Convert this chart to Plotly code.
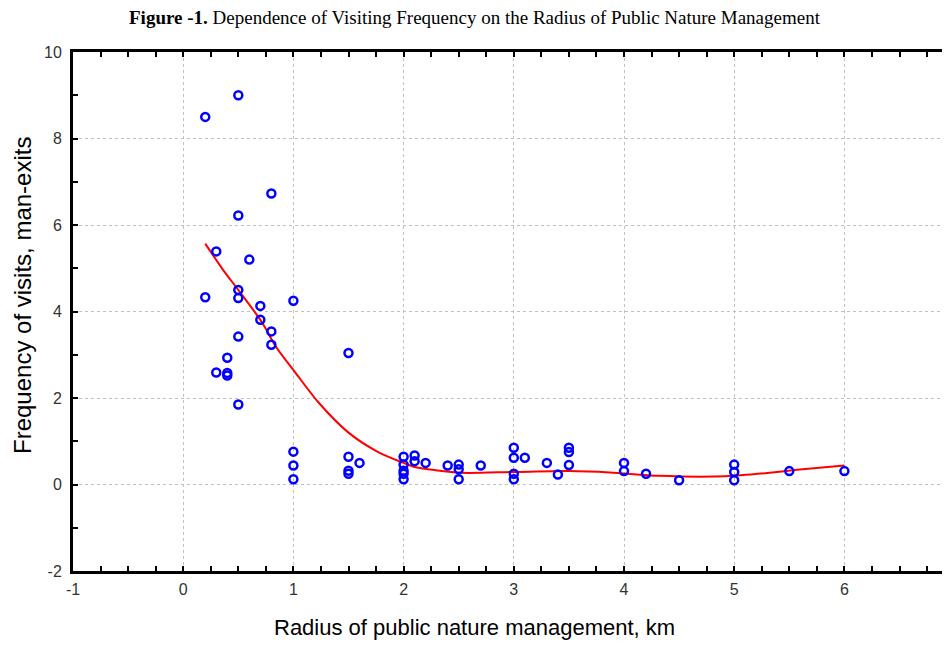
import plotly.graph_objects as go

# Observed data: radius (km) vs frequency of visits (man-exits)
radius_km = [0.2, 0.5, 0.8, 0.5, 0.3, 0.6,
             0.2, 0.5, 0.5, 0.7, 0.7, 0.8, 0.8, 0.5, 0.4, 0.3, 0.4, 0.4, 0.5, 1.0, 1.5,
             1.0, 1.0, 1.0,
             1.5, 1.6, 1.5, 1.5,
             2.0, 2.0, 2.0, 2.0, 2.0, 2.1, 2.1, 2.2, 2.4, 2.5, 2.5, 2.5, 2.7,
             3.0, 3.0, 3.0, 3.0, 3.1, 3.3, 3.4, 3.5, 3.5, 3.5,
             4.0, 4.0, 4.2, 4.5, 5.0, 5.0, 5.0, 5.5, 6.0]
visits = [8.5, 9.0, 6.73, 6.22, 5.39, 5.2,
          4.33, 4.5, 4.31, 4.13, 3.81, 3.54, 3.23, 3.42, 2.93, 2.59, 2.58, 2.52, 1.85, 4.25, 3.04,
          0.76, 0.44, 0.12,
          0.64, 0.5, 0.32, 0.25,
          0.64, 0.46, 0.32, 0.25, 0.12, 0.67, 0.54, 0.5, 0.44, 0.46, 0.35, 0.12, 0.44,
          0.85, 0.62, 0.25, 0.12, 0.62, 0.5, 0.23, 0.85, 0.75, 0.45,
          0.5, 0.31, 0.25, 0.1, 0.46, 0.29, 0.1, 0.31, 0.31]

# Smoothed fit curve
fit_x = [0.2, 0.36, 0.52, 0.72, 0.84, 1.02, 1.23, 1.5, 1.77, 2.0, 2.11, 2.29, 2.53,
         3.0, 3.5, 3.87, 4.32, 4.92, 5.32, 5.62, 6.0]
fit_y = [5.57, 4.97, 4.43, 3.73, 3.19, 2.58, 1.89, 1.2, 0.75, 0.5, 0.4, 0.33, 0.27,
         0.29, 0.31, 0.28, 0.2, 0.19, 0.27, 0.35, 0.44]

x_ticks = [-1, 0, 1, 2, 3, 4, 5, 6]
y_ticks = [-2, 0, 2, 4, 6, 8, 10]

title_text = "<b>Figure -1.</b> Dependence of Visiting Frequency on the Radius of Public Nature Management"
x_title = "Radius of public nature management, km"
y_title = "Frequency of visits, man-exits"

sans = "Liberation Sans, Arial, sans-serif"
serif = "Liberation Serif, Times New Roman, serif"

# The page body has an 8px default margin; size the figure so it fits the 950x648 window
OFF = 8
W, H = 950 - OFF, 648 - 2 * OFF
L, R, T, B = 73 - OFF, 0, 52 - OFF, H - (571 - OFF)
PW, PH = W - L - R, H - T - B


def px_to_paper(px, py):
    # px, py in window pixel coordinates
    return ((px - OFF) - L) / PW, (H - (py - OFF) - B) / PH


fig = go.Figure()
fig.add_trace(go.Scatter(
    x=fit_x, y=fit_y, mode="lines",
    line=dict(color="#ff0000", width=2, shape="spline", smoothing=0.8),
    hoverinfo="skip", showlegend=False))
fig.add_trace(go.Scatter(
    x=radius_km, y=visits, mode="markers",
    marker=dict(symbol="circle-open", size=8, color="#0000ff", line=dict(width=2.5, color="#0000ff")),
    showlegend=False))

tx, ty = px_to_paper(475, 17)
xx, xy = px_to_paper(474, 628)
yx, yy = px_to_paper(22, 296)

fig.update_layout(
    width=W, height=H,
    margin=dict(l=L, r=R, t=T, b=B, pad=0, autoexpand=False),
    paper_bgcolor="white", plot_bgcolor="white",
    showlegend=False,
    annotations=[
        dict(text=title_text, x=tx, y=ty, xref="paper", yref="paper", showarrow=False,
             xanchor="center", yanchor="middle",
             font=dict(family=serif, size=19, color="black")),
        dict(text=x_title, x=xx, y=xy, xref="paper", yref="paper", showarrow=False,
             xanchor="center", yanchor="middle",
             font=dict(family=sans, size=22, color="black")),
        dict(text=y_title, x=yx, y=yy, xref="paper", yref="paper", showarrow=False,
             textangle=-90, xanchor="center", yanchor="middle",
             font=dict(family=sans, size=24, color="black")),
    ],
)

fig.update_xaxes(
    range=[-1, -1 + PW / 110.2], automargin=False,
    tickmode="array", tickvals=x_ticks, ticktext=[str(v) for v in x_ticks],
    showgrid=True, gridcolor="#c0c0c0", griddash="dot", gridwidth=1,
    showline=True, linecolor="black", linewidth=3, mirror="ticks",
    ticks="inside", ticklen=5, tickwidth=2, tickcolor="black",
    minor=dict(dtick=0.25, tick0=0, ticks="inside", ticklen=5, tickwidth=2, tickcolor="black", showgrid=False),
    tickfont=dict(family=sans, size=16, color="#333333"),
    ticklabelstandoff=2,
    zeroline=False,
)
fig.update_yaxes(
    range=[-2, 10], automargin=False,
    tickmode="array", tickvals=y_ticks, ticktext=[str(v) for v in y_ticks],
    showgrid=True, gridcolor="#c0c0c0", griddash="dot", gridwidth=1,
    showline=True, linecolor="black", linewidth=3, mirror=False,
    ticks="inside", ticklen=5, tickwidth=2, tickcolor="black",
    minor=dict(dtick=1, tick0=0, ticks="inside", ticklen=5, tickwidth=2, tickcolor="black", showgrid=False),
    tickfont=dict(family=sans, size=16, color="#333333"),
    ticklabelstandoff=5,
    zeroline=False,
)

fig.write_html("out.html")
